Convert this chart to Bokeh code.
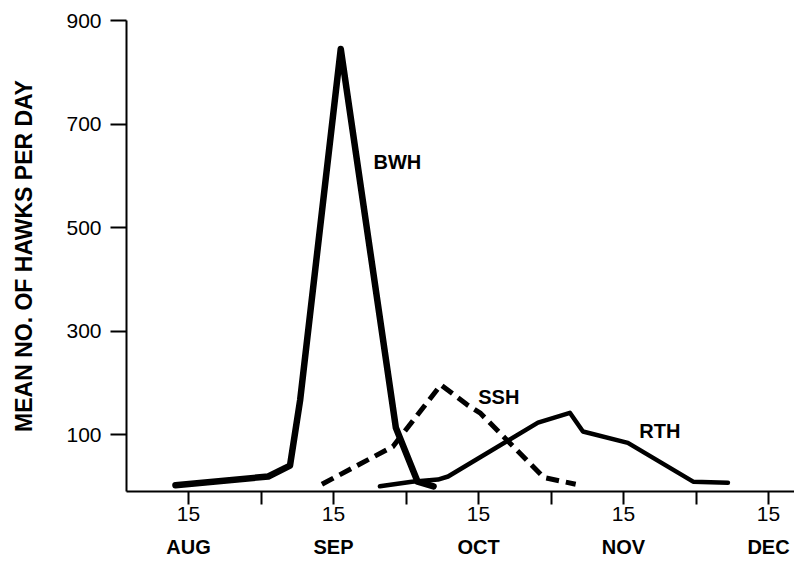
from bokeh.plotting import figure
from bokeh.models import Range1d, LinearAxis, FixedTicker
from bokeh.core.properties import value
from bokeh.embed import file_html
from bokeh.resources import INLINE

# x positions in months after 15 Aug (0 = Aug 15, 1 = Sep 15, ...)
month_ticks = [0, 1, 2, 3, 4]
month_bounds = [0.5, 1.5, 2.5, 3.5]
day_labels = ["15", "15", "15", "15", "15"]
month_names = ["AUG", "SEP", "OCT", "NOV", "DEC"]
y_ticks = [100, 300, 500, 700, 900]

bwh_x = [-0.09, 0.55, 0.70, 0.77, 1.05, 1.43, 1.58, 1.69]
bwh_y = [2, 19, 40, 167, 845, 113, 9, 0]

ssh_x = [0.92, 1.41, 1.74, 1.92, 2.01, 2.45, 2.67]
ssh_y = [4, 77, 196, 158, 142, 17, 4]

rth_x = [1.32, 1.54, 1.72, 1.79, 2.41, 2.63, 2.72, 3.03, 3.48, 3.72]
rth_y = [0, 9, 13, 19, 123, 142, 106, 84, 9, 7]

series_labels = ["BWH", "SSH", "RTH"]
label_x = [1.44, 2.14, 3.25]
label_y = [626, 173, 106]

FONT = "Liberation Sans"

p = figure(width=794, height=560, output_backend="svg", toolbar_location=None,
           x_range=Range1d(-0.4276, 4.179), y_range=Range1d(-10, 900),
           min_border_left=126, min_border_right=0, min_border_top=20,
           min_border_bottom=10, x_axis_type=None, y_axis_type=None)
p.grid.visible = False
p.outline_line_color = None
p.background_fill_color = "white"
p.border_fill_color = "white"

# y axis
ya = LinearAxis(ticker=FixedTicker(ticks=y_ticks))
ya.axis_label = "MEAN NO. OF HAWKS PER DAY"
ya.axis_label_text_font = FONT
ya.axis_label_text_font_style = "bold"
ya.axis_label_text_font_size = "23px"
ya.axis_label_text_color = "black"
ya.axis_label_standoff = 26
ya.major_label_text_font = FONT
ya.major_label_text_font_size = "21px"
ya.major_label_text_color = "black"
ya.major_label_standoff = 9
ya.major_tick_out = 16
ya.major_tick_in = 0
ya.major_tick_line_width = 2
ya.minor_tick_line_color = None
ya.axis_line_width = 2
ya.axis_line_color = "black"
ya.major_tick_line_color = "black"
p.add_layout(ya, "left")

# x axis with day ticks
xa = LinearAxis(ticker=FixedTicker(ticks=month_ticks, minor_ticks=month_bounds))
xa.major_label_overrides = {t: l for t, l in zip(month_ticks, day_labels)}
xa.major_label_text_font = FONT
xa.major_label_text_font_size = "21px"
xa.major_label_text_color = "black"
xa.major_label_standoff = 2
xa.major_tick_out = 13
xa.major_tick_in = 0
xa.minor_tick_out = 13
xa.minor_tick_in = 0
xa.major_tick_line_width = 2
xa.minor_tick_line_width = 2
xa.major_tick_line_color = "black"
xa.minor_tick_line_color = "black"
xa.axis_line_width = 2
xa.axis_line_color = "black"
p.add_layout(xa, "below")

# month names axis
ma = LinearAxis(ticker=FixedTicker(ticks=month_ticks))
ma.major_label_overrides = {t: l for t, l in zip(month_ticks, month_names)}
ma.major_label_text_font = FONT
ma.major_label_text_font_style = "bold"
ma.major_label_text_font_size = "20px"
ma.major_label_text_color = "black"
ma.major_label_standoff = 6
ma.major_tick_line_color = None
ma.minor_tick_line_color = None
ma.axis_line_color = None
p.add_layout(ma, "below")

p.line(rth_x, rth_y, line_color="black", line_width=4.5, line_join="round", line_cap="round")
p.line(ssh_x, ssh_y, line_color="black", line_width=5, line_dash="13 7", line_join="round")
p.line(bwh_x, bwh_y, line_color="black", line_width=6.5, line_join="round", line_cap="round")

p.text(x=label_x, y=label_y, text=series_labels, text_font=value(FONT),
       text_font_style="bold", text_font_size="20px", text_color="black",
       text_align="center", text_baseline="middle")

open("out.html", "w").write(file_html(p, INLINE))
